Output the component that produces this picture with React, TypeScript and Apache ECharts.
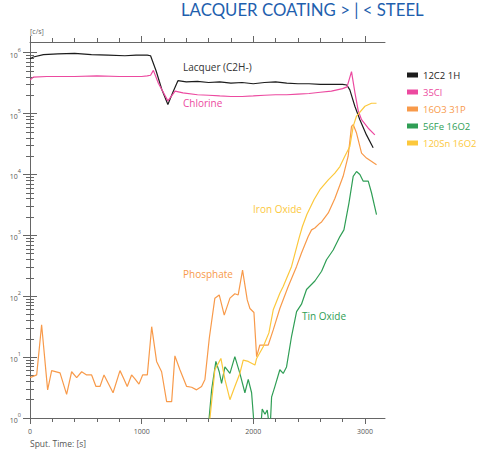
import React, { useEffect, useRef } from 'react';
import * as echarts from 'echarts';

const TITLE = 'LACQUER COATING > | < STEEL';
const SERIES_NAMES = ['12C2 1H', '35Cl', '16O3 31P', '56Fe 16O2', '120Sn 16O2'];
const SERIES_COLORS = ['#1c1c1c', '#ec4aa0', '#f89a4a', '#2f9e55', '#fcc83c'];

// 12C2 1H (Lacquer)
const lacquerTime = [0, 30, 120, 250, 400, 550, 700, 850, 950, 1050, 1080, 1130, 1180, 1235, 1280, 1325, 1400, 1500, 1600, 1700, 1800, 1900, 2000, 2100, 2200, 2300, 2400, 2500, 2600, 2700, 2800, 2838, 2865, 2910, 2955, 3014, 3074];
const lacquerCounts = [794000, 851000, 933000, 955000, 977000, 933000, 912000, 891000, 912000, 912000, 891000, 501000, 251000, 141000, 224000, 347000, 331000, 339000, 324000, 331000, 316000, 324000, 309000, 324000, 331000, 316000, 309000, 309000, 302000, 302000, 302000, 295000, 245000, 132000, 79400, 44700, 27500];

// 35Cl (Chlorine)
const chlorineTime = [0, 30, 150, 400, 600, 800, 1000, 1050, 1080, 1105, 1150, 1235, 1300, 1370, 1500, 1600, 1700, 1800, 1900, 2000, 2100, 2200, 2300, 2400, 2500, 2600, 2700, 2800, 2840, 2880, 2910, 2940, 2970, 3030, 3089];
const chlorineCounts = [355000, 398000, 407000, 407000, 417000, 407000, 407000, 417000, 427000, 513000, 316000, 162000, 234000, 219000, 204000, 200000, 195000, 191000, 191000, 195000, 200000, 204000, 204000, 209000, 214000, 224000, 234000, 257000, 275000, 490000, 224000, 112000, 79400, 57500, 44700];

// 16O3 31P (Phosphate)
const phosphateTime = [0, 60, 104, 158, 194, 269, 328, 373, 418, 463, 507, 552, 591, 627, 663, 744, 806, 836, 871, 910, 940, 976, 1009, 1051, 1090, 1134, 1179, 1224, 1269, 1298, 1343, 1403, 1448, 1492, 1537, 1567, 1606, 1656, 1695, 1740, 1791, 1835, 1865, 1904, 1946, 1970, 2006, 2030, 2059, 2134, 2179, 2238, 2313, 2388, 2432, 2492, 2522, 2552, 2597, 2612, 2672, 2730, 2805, 2850, 2880, 2895, 2925, 2970, 3014, 3104];
const phosphateCounts = [4.6, 5.1, 34, 2.9, 6.0, 5.5, 2.45, 5.75, 4.6, 5.75, 5.1, 5.1, 3.3, 3.3, 5.1, 2.6, 6.0, 4.6, 3.3, 5.1, 4.4, 3.6, 5.1, 5.1, 31.6, 8.5, 5.75, 1.86, 1.86, 10.5, 6.2, 3.3, 3.2, 2.9, 3.3, 4.3, 20.4, 93, 105, 49, 93, 110, 105, 269, 87, 63, 54, 10.2, 15.8, 15.8, 28, 63, 145, 309, 513, 955, 1230, 1320, 1585, 1660, 2340, 4000, 9330, 19950, 61700, 66100, 47900, 22400, 18600, 14500];

// 56Fe 16O2 (Tin Oxide)
const tinTime = [1590, 1627, 1665, 1695, 1716, 1746, 1791, 1835, 1880, 1925, 1955, 1985, 2015, 2060, 2080, 2105, 2125, 2150, 2164, 2194, 2238, 2268, 2298, 2343, 2388, 2432, 2477, 2552, 2612, 2656, 2716, 2776, 2812, 2857, 2895, 2925, 2955, 2985, 3030, 3059, 3104];
const tinCounts = [0.5, 2.9, 8.5, 5.75, 3.7, 6.9, 5.4, 10.2, 5.4, 2.6, 4.3, 2.6, 0.5, 0.5, 1.4, 1.15, 1.35, 0.6, 2.2, 3.3, 6.2, 5.4, 6.9, 22, 56, 74, 129, 178, 257, 398, 575, 955, 1230, 3390, 9330, 11200, 10000, 7760, 7760, 5010, 2190];

// 120Sn 16O2 (Iron Oxide)
const ironTime = [1600, 1656, 1710, 1746, 1791, 1835, 1880, 1910, 1955, 2015, 2030, 2089, 2140, 2179, 2238, 2268, 2343, 2410, 2440, 2480, 2545, 2597, 2672, 2731, 2776, 2820, 2865, 2895, 2925, 3000, 3059, 3104];
const ironCounts = [0.6, 6.2, 9.5, 4.3, 2.0, 3.3, 5.4, 8.9, 8.5, 7.4, 9.5, 14.8, 25, 60, 112, 145, 309, 900, 1400, 2200, 3890, 5620, 8130, 10500, 13500, 19950, 28800, 61700, 91200, 132000, 148000, 148000];

const X_MAJOR_TICKS = [0, 1000, 2000, 3000];
const X_MINOR_TICKS = [200, 400, 600, 800, 1200, 1400, 1600, 1800, 2200, 2400, 2600, 2800];
const Y_MAJOR_TICKS = [1, 10, 100, 1000, 10000, 100000, 1000000];
const Y_MINOR_TICKS: number[] = [];
for (const d of [1, 10, 100, 1000, 10000, 100000]) {
  for (const k of [2, 3, 4, 5, 6, 7, 8, 9]) Y_MINOR_TICKS.push(k * d);
}

const X_MIN = 0;
const X_MAX = 3180;
const Y_MIN = 1;
const Y_MAX = 1500000;

const FONT = 'Open Sans';
const AXIS_COLOR = '#666';

function zip(t: number[], v: number[]) {
  return t.map((x, i) => [x, v[i]]);
}

export default function App() {
  const ref = useRef<HTMLDivElement>(null);
  useEffect(() => {
    if (!ref.current) return;
    const chart = echarts.init(ref.current, undefined, { renderer: 'svg' });
    const lineAxis = { show: true, lineStyle: { color: AXIS_COLOR, width: 1 } };
    const noLine = { show: false };
    const xBase = { type: 'value', min: X_MIN, max: X_MAX, splitLine: { show: false } };
    const yBase = { type: 'log', logBase: 10, min: Y_MIN, max: Y_MAX, splitLine: { show: false } };
    const tickStyle = { color: AXIS_COLOR, width: 1 };

    const dataSets = [
      zip(lacquerTime, lacquerCounts),
      zip(chlorineTime, chlorineCounts),
      zip(phosphateTime, phosphateCounts),
      zip(tinTime, tinCounts),
      zip(ironTime, ironCounts),
    ];

    chart.setOption({
      animation: false,
      backgroundColor: '#fff',
      textStyle: { fontFamily: FONT },
      grid: { left: 30, right: 96, top: 42, bottom: 37, outerBoundsMode: 'none' },
      xAxis: [
        {
          ...xBase, position: 'bottom', axisLine: lineAxis,
          axisTick: { show: true, customValues: X_MAJOR_TICKS, length: 6, lineStyle: tickStyle },
          axisLabel: {
            customValues: X_MAJOR_TICKS, fontSize: 7, color: '#555', margin: 10, fontFamily: FONT,
            formatter: (v: number) => String(Math.round(v)),
          },
        },
        {
          ...xBase, position: 'bottom', axisLine: noLine,
          axisTick: { show: true, customValues: X_MINOR_TICKS, length: 4, lineStyle: tickStyle },
          axisLabel: { show: false },
        },
        {
          ...xBase, position: 'top', axisLine: lineAxis,
          axisTick: { show: true, customValues: X_MAJOR_TICKS, length: 6, lineStyle: tickStyle },
          axisLabel: { show: false },
        },
        {
          ...xBase, position: 'top', axisLine: noLine,
          axisTick: { show: true, customValues: X_MINOR_TICKS, length: 4, lineStyle: tickStyle },
          axisLabel: { show: false },
        },
      ],
      yAxis: [
        {
          ...yBase, position: 'left', axisLine: lineAxis,
          axisTick: { show: true, customValues: Y_MAJOR_TICKS, length: 7, lineStyle: tickStyle },
          axisLabel: {
            customValues: Y_MAJOR_TICKS, margin: 9, color: '#555', fontFamily: FONT,
            formatter: (v: number) => '{b|10}{s|' + Math.round(Math.log10(v)) + '}',
            rich: {
              b: { fontSize: 7, color: '#555', fontFamily: FONT, lineHeight: 12, verticalAlign: 'bottom' },
              s: { fontSize: 5.5, color: '#555', fontFamily: FONT, lineHeight: 12, verticalAlign: 'top' },
            },
          },
        },
        {
          ...yBase, position: 'left', axisLine: noLine,
          axisTick: { show: true, customValues: Y_MINOR_TICKS, length: 4, lineStyle: tickStyle },
          axisLabel: { show: false },
        },
        {
          ...yBase, position: 'right', axisLine: lineAxis,
          axisTick: { show: true, customValues: Y_MAJOR_TICKS, length: 7, lineStyle: tickStyle },
          axisLabel: { show: false },
        },
        {
          ...yBase, position: 'right', axisLine: noLine,
          axisTick: { show: true, customValues: Y_MINOR_TICKS, length: 4, lineStyle: tickStyle },
          axisLabel: { show: false },
        },
      ],
      legend: {
        orient: 'vertical',
        left: 407,
        top: 70,
        padding: 0,
        itemWidth: 11,
        itemHeight: 5,
        itemGap: 7,
        icon: 'rect',
        textStyle: { fontSize: 9.5, fontFamily: FONT },
        data: SERIES_NAMES.map((n, i) => ({ name: n, textStyle: { color: SERIES_COLORS[i] } })),
      },
      series: SERIES_NAMES.map((name, i) => ({
        name,
        type: 'line',
        xAxisIndex: 0,
        yAxisIndex: 0,
        data: dataSets[i],
        showSymbol: false,
        symbol: 'none',
        clip: true,
        color: SERIES_COLORS[i],
        itemStyle: { color: SERIES_COLORS[i] },
        lineStyle: { color: SERIES_COLORS[i], width: 1.2 },
      })),
      graphic: [
        { type: 'text', left: 181, top: 1, style: { text: TITLE, fill: '#1f5fae', font: '16.8px Lato' } },
        { type: 'text', left: 30, top: 28, style: { text: '[c/s]', fill: '#666', font: `7px "${FONT}"` } },
        { type: 'text', left: 30, top: 439, style: { text: 'Sput. Time: [s]', fill: '#555', font: `8.5px "${FONT}"` } },
        { type: 'text', left: 183, top: 62, style: { text: 'Lacquer (C2H-)', fill: '#333', font: `10px "${FONT}"` } },
        { type: 'text', left: 183, top: 98, style: { text: 'Chlorine', fill: SERIES_COLORS[1], font: `10px "${FONT}"` } },
        { type: 'text', left: 253, top: 204, style: { text: 'Iron Oxide', fill: SERIES_COLORS[4], font: `10px "${FONT}"` } },
        { type: 'text', left: 183, top: 269, style: { text: 'Phosphate', fill: SERIES_COLORS[2], font: `10px "${FONT}"` } },
        { type: 'text', left: 302, top: 311, style: { text: 'Tin Oxide', fill: SERIES_COLORS[3], font: `10px "${FONT}"` } },
      ],
    });
    return () => chart.dispose();
  }, []);
  return <div ref={ref} style={{ position: 'fixed', left: 0, top: 0, width: 481, height: 455 }} />;
}
